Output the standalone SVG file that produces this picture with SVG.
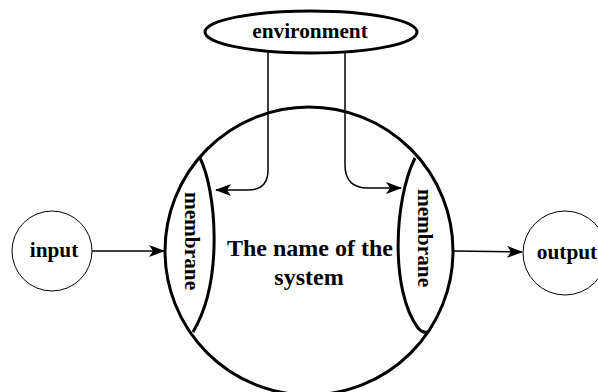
<svg xmlns="http://www.w3.org/2000/svg" width="598" height="392" viewBox="0 0 598 392">
<style>
.thick{fill:none;stroke:#000;stroke-width:3}
.thin{fill:#fff;stroke:#000;stroke-width:1}
.conn{fill:none;stroke:#000;stroke-width:1.5}
text{font-family:"Liberation Serif","Times New Roman",serif;font-weight:bold;fill:#000;text-anchor:middle}
.lbl{font-size:21.3px}
.big{font-size:24px}
</style>
<defs>
<marker id="arr" viewBox="0 0 16 12" refX="15" refY="6" markerWidth="16" markerHeight="12" markerUnits="userSpaceOnUse" orient="auto">
<path d="M0,0 L16,6 L0,12 L4,6 Z" fill="#000"/>
</marker>
</defs>
<rect width="598" height="392" fill="#fff"/>
<g id="system">
<circle cx="309" cy="251" r="144" class="thick"/>
<text class="big" x="310" y="256">The name of the</text>
<text class="big" x="309" y="285">system</text>
</g>
<g id="membrane-left">
<path class="thick" d="M200,158 C216,190 224,280 193,332"/>
<text class="lbl" transform="translate(185,241) rotate(90)" x="0" y="0">membrane</text>
</g>
<g id="membrane-right">
<path class="thick" d="M415,158 C394,200 390,290 418,328 Q422,333 427,332"/>
<text class="lbl" transform="translate(418,238) rotate(90)" x="0" y="0">membrane</text>
</g>
<g id="environment">
<ellipse cx="311" cy="32" rx="106" ry="21" fill="#fff" stroke="#000" stroke-width="3"/>
<text class="lbl" x="310" y="38">environment</text>
</g>
<g id="input">
<circle class="thin" cx="52" cy="251" r="40"/>
<text class="lbl" x="54" y="257">input</text>
</g>
<g id="output">
<circle class="thin" cx="565" cy="253" r="42"/>
<text class="lbl" x="567" y="259">output</text>
</g>
<g id="connectors">
<path class="conn" d="M92,251 L164,251" marker-end="url(#arr)"/>
<path class="conn" d="M454,251 L522,252" marker-end="url(#arr)"/>
<path class="conn" d="M268,53 L268,170 Q268,190 248,190 L216,190" marker-end="url(#arr)"/>
<path class="conn" d="M345,53 L345,165 Q345,188 368,188 L401,188" marker-end="url(#arr)"/>
</g>
</svg>
